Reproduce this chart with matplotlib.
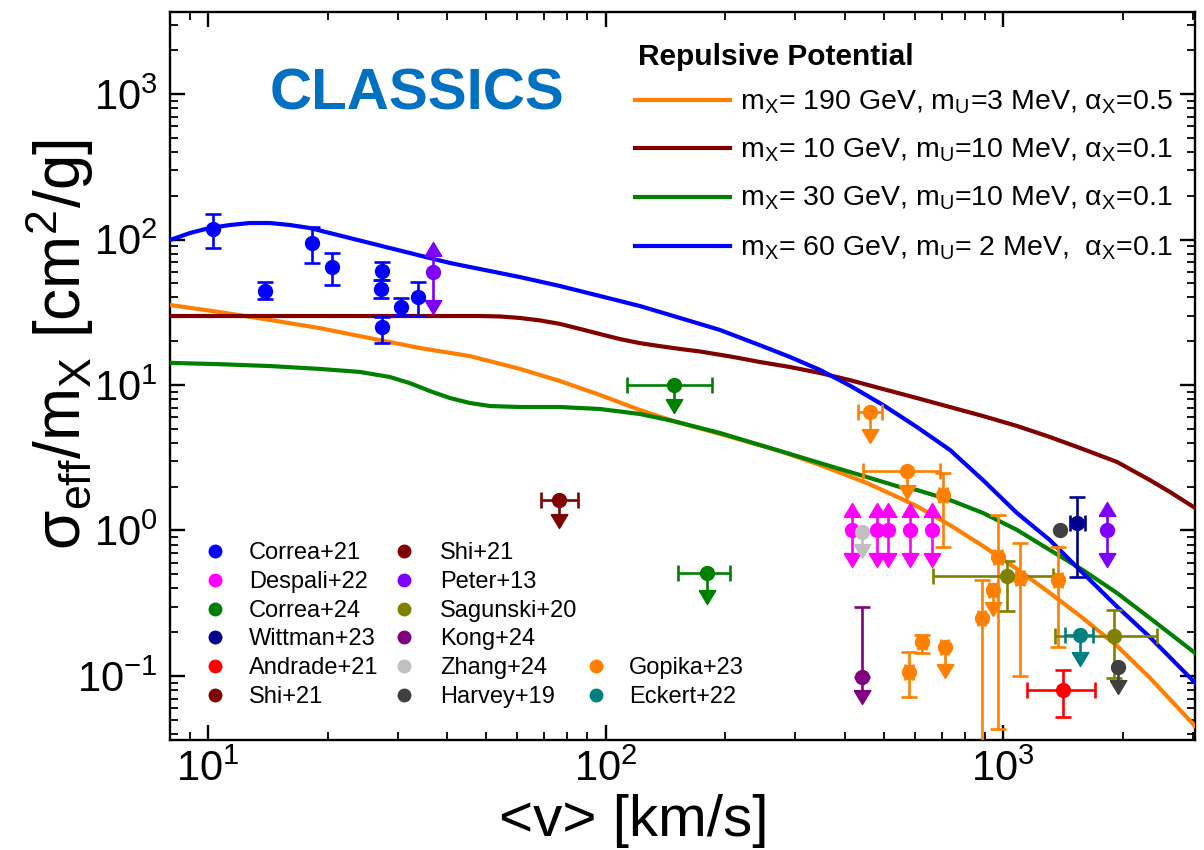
import numpy as np
import matplotlib
matplotlib.use("Agg")
import matplotlib.pyplot as plt
from matplotlib.ticker import LogLocator, FuncFormatter, NullFormatter

plt.rcParams['font.family'] = ['Liberation Sans', 'DejaVu Sans']
plt.rcParams['mathtext.fontset'] = 'custom'
plt.rcParams['mathtext.rm'] = 'Liberation Sans'
plt.rcParams['mathtext.it'] = 'Liberation Sans:italic'
plt.rcParams['mathtext.bf'] = 'Liberation Sans:bold'

# ---------------- model curves: <v> [km/s] vs sigma_eff/m_X [cm^2/g] ----------------
orange_v = [8.03, 10.72, 14.32, 19.12, 25.55, 34.12, 45.6, 60.9, 76.8, 96.8, 122, 147.7, 193.9,
            274.4, 345.8, 454, 549.6, 606, 734, 889, 1082, 1310, 1585, 1931, 2337, 3034]
orange_s = [35.5, 31.7, 28.0, 24.6, 21.0, 17.96, 15.8, 12.9, 10.65, 8.54, 6.73, 5.66, 4.61,
            3.52, 2.82, 2.12, 1.67, 1.47, 1.09, 0.782, 0.544, 0.372, 0.25, 0.161, 0.097, 0.0453]

brown_v = [8.03, 20, 40, 48.3, 54.2, 60.9, 68.4, 76.8, 86.2, 96.8, 108.6, 122, 136.9, 153.8, 172.7,
           209, 244, 290.6, 345.8, 411.6, 498, 606, 734, 889, 1082, 1310, 1585, 1931, 2337, 2624, 3034]
brown_s = [29.8, 29.8, 29.8, 29.8, 29.6, 28.9, 27.8, 26.3, 24.3, 22.4, 20.7, 19.4, 18.5, 17.7, 17.0,
           15.6, 14.4, 13.3, 12.1, 10.8, 9.39, 8.14, 7.06, 6.12, 5.23, 4.39, 3.63, 2.96, 2.22, 1.84, 1.43]

green_v = [8.03, 10.72, 14.32, 19.12, 24.1, 28.68, 32.2, 36.15, 40.6, 45.6, 51.2, 60.9, 76.8, 96.8,
           122, 147.7, 193.9, 274.4, 345.8, 454, 549.6, 606, 734, 889, 1082, 1310, 1585, 1931, 2337, 3034]
green_s = [14.2, 13.9, 13.5, 12.9, 12.3, 11.35, 10.3, 9.09, 8.14, 7.52, 7.17, 7.06, 7.06, 6.84,
           6.32, 5.66, 4.68, 3.52, 2.91, 2.33, 1.99, 1.90, 1.62, 1.32, 1.01, 0.734, 0.535, 0.372, 0.25, 0.144]

blue_v = [8.03, 9.01, 10.1, 11.36, 12.75, 14.32, 16.08, 18.05, 20.27, 22.75, 25.55, 28.68, 32.2,
          36.15, 40.6, 48.3, 60.9, 76.8, 96.8, 122, 153.8, 193.9, 244, 290.6, 345.8, 411.6, 498,
          606, 735, 889, 1082, 1309, 1585, 1931, 2337, 3034]
blue_s = [99.2, 110.8, 120, 125.8, 129.9, 129.9, 125.8, 120, 110.8, 102.4, 94.6, 87.4, 80.8,
          74.6, 69, 62.7, 55.2, 47.9, 40.9, 34.9, 28.9, 23.9, 18.8, 15.6, 12.7, 9.9, 7.3,
          5.15, 3.57, 2.22, 1.32, 0.86, 0.51, 0.30, 0.185, 0.09]

curve_labels = [
    'm$_{\\mathrm{X}}$= 190 GeV, m$_{\\mathrm{U}}$=3 MeV, \u03b1$_{\\mathrm{X}}$=0.5',
    'm$_{\\mathrm{X}}$= 10 GeV, m$_{\\mathrm{U}}$=10 MeV, \u03b1$_{\\mathrm{X}}$=0.1',
    'm$_{\\mathrm{X}}$= 30 GeV, m$_{\\mathrm{U}}$=10 MeV, \u03b1$_{\\mathrm{X}}$=0.1',
    'm$_{\\mathrm{X}}$= 60 GeV, m$_{\\mathrm{U}}$= 2 MeV,  \u03b1$_{\\mathrm{X}}$=0.1',
]

# ---------------- observational constraints ----------------
# Correa+21
correa21_v = [10.3, 13.9, 18.3, 20.5, 27.4, 27.2, 30.5, 33.7, 27.4]
correa21_s = [118, 44, 94.6, 64.7, 60.8, 45.7, 34.4, 40.3, 25]
correa21_lo = [87.5, 39, 69, 48.6, 52.7, 39.6, 30.3, 30, 19.5]
correa21_hi = [150, 51, 122, 80.7, 70, 52.7, 39.6, 51, 29.4]

# Peter+13 (ranges)
peter13_v = [36.8, 1820]
peter13_s = [59.9, 1.0]
peter13_up = [96.6, 1.58]
peter13_down = [31, 0.56]

# Correa+24 (upper limits)
correa24_v = [149, 180]
correa24_s = [10, 0.51]
correa24_vlo = [113, 152]
correa24_vhi = [185, 206]
correa24_down = [6.4, 0.31]

# Shi+21 (upper limit)
shi21_v = [76.4]
shi21_s = [1.62]
shi21_vlo = [68.7]
shi21_vhi = [85]
shi21_down = [1.04]

# Despali+22 (ranges)
despali22_v = [416, 481, 513, 582, 662]
despali22_s = [1.0, 1.0, 1.0, 1.0, 1.0]
despali22_up = [1.55, 1.55, 1.55, 1.55, 1.55]
despali22_down = [0.56, 0.56, 0.56, 0.56, 0.56]

# Zhang+24
zhang24_v = [441]
zhang24_s = [0.97]
zhang24_down = [0.65]

# Kong+24
kong24_v = [441]
kong24_s = [0.098]
kong24_hi = [0.30]
kong24_down = [0.064]

# Harvey+19
harvey19_v = [1387, 1941]
harvey19_s = [1.0, 0.115]
harvey19_down = [np.nan, 0.075]

# Wittman+23
wittman23_v = [1531]
wittman23_s = [1.13]
wittman23_lo = [0.48]
wittman23_hi = [1.70]
wittman23_vlo = [1469]
wittman23_vhi = [1603]

# Andrade+21
andrade21_v = [1413]
andrade21_s = [0.080]
andrade21_lo = [0.052]
andrade21_hi = [0.11]
andrade21_vlo = [1146]
andrade21_vhi = [1698]

# Eckert+22
eckert22_v = [1560]
eckert22_s = [0.19]
eckert22_vlo = [1430]
eckert22_vhi = [1680]
eckert22_down = [0.118]

# Sagunski+20
sagunski20_v = [1020, 1897]
sagunski20_s = [0.49, 0.188]
sagunski20_lo = [0.28, 0.097]
sagunski20_hi = [0.62, 0.285]
sagunski20_vlo = [665, 1349]
sagunski20_vhi = [1333, 2432]

# Gopika+23
gopika23_v = [463, 573, 705, 968, 941, 883, 1101, 1371, 579, 624, 713]
gopika23_s = [6.5, 2.56, 1.75, 0.66, 0.39, 0.25, 0.47, 0.457, 0.106, 0.17, 0.158]
gopika23_lo = [np.nan, np.nan, 0.77, 0.043, np.nan, 0.01, 0.10, 0.158, 0.072, 0.144, np.nan]
gopika23_hi = [np.nan, np.nan, 2.48, 1.28, np.nan, 0.457, 0.82, 0.77, 0.146, 0.19, np.nan]
gopika23_vlo = [431, 444, 690, 945, 920, 865, 1075, 1340, 566, 610, 698]
gopika23_vhi = [495, 693, 720, 990, 962, 900, 1127, 1402, 592, 638, 728]
gopika23_down = [3.97, 1.64, np.nan, np.nan, 0.26, np.nan, np.nan, np.nan, np.nan, np.nan, 0.097]

C_CORREA21 = '#0000FF'
C_DESPALI = '#FF00FF'
C_CORREA24 = '#008000'
C_WITTMAN = '#000090'
C_ANDRADE = '#FF0000'
C_SHI = '#800000'
C_PETER = '#8000FF'
C_SAGUNSKI = '#808000'
C_KONG = '#800080'
C_ZHANG = '#C0C0C0'
C_HARVEY = '#404040'
C_GOPIKA = '#FF8000'
C_ECKERT = '#008080'

# ---------------- figure ----------------
W, H = 1204, 850
fig = plt.figure(figsize=(W / 100, H / 100), dpi=100)
AX_L, AX_R, AX_T, AX_B = 170, 1195, 12, 740
ax = fig.add_axes([AX_L / W, 1 - AX_B / H, (AX_R - AX_L) / W, (AX_B - AX_T) / H])
ax.set_xscale('log')
ax.set_yscale('log')
ax.set_xlim(8.03, 3034)
ax.set_ylim(0.0363, 3664)

LW = 3.0
ax.plot(orange_v, orange_s, color='#FF8000', lw=LW, zorder=3, solid_joinstyle='round')
ax.plot(brown_v, brown_s, color='#800000', lw=LW, zorder=3, solid_joinstyle='round')
ax.plot(green_v, green_s, color='#008000', lw=LW, zorder=3, solid_joinstyle='round')
ax.plot(blue_v, blue_s, color='#0000FF', lw=LW, zorder=3, solid_joinstyle='round')

# triangle markers whose tip sits on the data point
TRI_DOWN = [(-0.6, 1.0), (0.6, 1.0), (0.0, 0.0), (-0.6, 1.0)]
TRI_UP = [(-0.6, -1.0), (0.6, -1.0), (0.0, 0.0), (-0.6, -1.0)]
MS = 10
ELW = 1.9
CAP = 5.5


def arr(a, n):
    if a is None:
        return np.full(n, np.nan)
    return np.asarray(a, dtype=float)


def draw(v, s, color, lo=None, hi=None, vlo=None, vhi=None, down=None, up=None, z=5):
    v = np.asarray(v, float)
    s = np.asarray(s, float)
    n = len(v)
    lo, hi, vlo, vhi = arr(lo, n), arr(hi, n), arr(vlo, n), arr(vhi, n)
    down, up = arr(down, n), arr(up, n)
    for i in range(n):
        if np.isfinite(lo[i]) or np.isfinite(hi[i]):
            l = lo[i] if np.isfinite(lo[i]) else s[i]
            h = hi[i] if np.isfinite(hi[i]) else s[i]
            ax.errorbar([v[i]], [s[i]], yerr=[[s[i] - l], [h - s[i]]], fmt='none',
                        ecolor=color, elinewidth=ELW, capsize=CAP, capthick=ELW, zorder=z)
        if np.isfinite(vlo[i]):
            ax.errorbar([v[i]], [s[i]], xerr=[[v[i] - vlo[i]], [vhi[i] - v[i]]], fmt='none',
                        ecolor=color, elinewidth=ELW, capsize=CAP, capthick=ELW, zorder=z)
        if np.isfinite(down[i]):
            ax.plot([v[i], v[i]], [s[i], down[i] * 1.05], color=color, lw=ELW, zorder=z)
            ax.plot([v[i]], [down[i]], marker=TRI_DOWN, ms=20, color=color, mec=color, zorder=z)
        if np.isfinite(up[i]):
            ax.plot([v[i], v[i]], [s[i], up[i] / 1.05], color=color, lw=ELW, zorder=z)
            ax.plot([v[i]], [up[i]], marker=TRI_UP, ms=20, color=color, mec=color, zorder=z)
    ax.plot(v, s, 'o', ms=MS, color=color, mec=color, zorder=z + 0.5)


draw(correa21_v, correa21_s, C_CORREA21, lo=correa21_lo, hi=correa21_hi)
draw(peter13_v, peter13_s, C_PETER, up=peter13_up, down=peter13_down)
draw(correa24_v, correa24_s, C_CORREA24, vlo=correa24_vlo, vhi=correa24_vhi, down=correa24_down)
draw(shi21_v, shi21_s, C_SHI, vlo=shi21_vlo, vhi=shi21_vhi, down=shi21_down)
draw(despali22_v, despali22_s, C_DESPALI, up=despali22_up, down=despali22_down)
draw(zhang24_v, zhang24_s, C_ZHANG, down=zhang24_down, z=6)
draw(kong24_v, kong24_s, C_KONG, hi=kong24_hi, down=kong24_down)
draw(gopika23_v, gopika23_s, C_GOPIKA, lo=gopika23_lo, hi=gopika23_hi,
     vlo=gopika23_vlo, vhi=gopika23_vhi, down=gopika23_down)
draw(sagunski20_v, sagunski20_s, C_SAGUNSKI, lo=sagunski20_lo, hi=sagunski20_hi,
     vlo=sagunski20_vlo, vhi=sagunski20_vhi)
draw(harvey19_v, harvey19_s, C_HARVEY, down=harvey19_down)
draw(wittman23_v, wittman23_s, C_WITTMAN, lo=wittman23_lo, hi=wittman23_hi,
     vlo=wittman23_vlo, vhi=wittman23_vhi)
draw(andrade21_v, andrade21_s, C_ANDRADE, lo=andrade21_lo, hi=andrade21_hi,
     vlo=andrade21_vlo, vhi=andrade21_vhi)
draw(eckert22_v, eckert22_s, C_ECKERT, vlo=eckert22_vlo, vhi=eckert22_vhi, down=eckert22_down)

# ---------------- axes styling ----------------
for sp in ax.spines.values():
    sp.set_linewidth(1.7)
ax.xaxis.set_major_locator(LogLocator(base=10, numticks=20))
ax.yaxis.set_major_locator(LogLocator(base=10, numticks=20))
ax.xaxis.set_minor_locator(LogLocator(base=10, subs=np.arange(2, 10), numticks=50))
ax.yaxis.set_minor_locator(LogLocator(base=10, subs=np.arange(2, 10), numticks=50))
fmt = FuncFormatter(lambda val, pos: '$10^{%d}$' % int(round(np.log10(val))))
ax.xaxis.set_major_formatter(fmt)
ax.yaxis.set_major_formatter(fmt)
ax.xaxis.set_minor_formatter(NullFormatter())
ax.yaxis.set_minor_formatter(NullFormatter())
ax.tick_params(which='both', direction='in', top=True, right=True, labelsize=30)
ax.tick_params(which='major', length=11, width=1.7, pad=9)
ax.tick_params(axis='x', which='major', pad=7)
ax.tick_params(which='minor', length=6, width=1.3)

fig.text(60 / W, 1 - 345 / H, '\u03c3$_{\\mathrm{eff}}$/m$_{\\mathrm{X}}$ [cm$^{2}$/g]',
         rotation=90, ha='center', va='center', fontsize=46)
fig.text(634 / W, 1 - 821 / H, '<v> [km/s]', ha='center', va='center', fontsize=42)


def fx(px):
    return (px - AX_L) / (AX_R - AX_L)


def fy(py):
    return (AX_B - py) / (AX_B - AX_T)


# title block
ax.text(fx(417), fy(95), 'CLASSICS', transform=ax.transAxes, ha='center', va='center',
        fontsize=42, fontweight='bold', color='#0070C0')

# model legend
ax.text(fx(638), fy(57), 'Repulsive Potential', transform=ax.transAxes, ha='left',
        va='center', fontsize=21.5, fontweight='bold')
leg_rows = [100, 148, 197, 246]
for row, col, lab in zip(leg_rows, ['#FF8000', '#800000', '#008000', '#0000FF'], curve_labels):
    ax.plot([fx(635), fx(730)], [fy(row), fy(row)], transform=ax.transAxes, color=col,
            lw=LW, clip_on=False)
    ax.text(fx(740), fy(row + 9), lab, transform=ax.transAxes, ha='left', va='baseline',
            fontsize=20.5)

# data legend
names = [
    ('Correa+21', C_CORREA21, 0, 0), ('Despali+22', C_DESPALI, 0, 1),
    ('Correa+24', C_CORREA24, 0, 2), ('Wittman+23', C_WITTMAN, 0, 3),
    ('Andrade+21', C_ANDRADE, 0, 4), ('Shi+21', C_SHI, 0, 5),
    ('Shi+21', C_SHI, 1, 0), ('Peter+13', C_PETER, 1, 1),
    ('Sagunski+20', C_SAGUNSKI, 1, 2), ('Kong+24', C_KONG, 1, 3),
    ('Zhang+24', C_ZHANG, 1, 4), ('Harvey+19', C_HARVEY, 1, 5),
    ('Gopika+23', C_GOPIKA, 2, 4), ('Eckert+22', C_ECKERT, 2, 5),
]
col_marker = [215, 404, 596]
col_text = [249, 440, 629]
for lab, col, c, r in names:
    py = 551 + 28.8 * r
    ax.plot([fx(col_marker[c])], [fy(py)], 'o', ms=9, color=col, transform=ax.transAxes,
            clip_on=False)
    ax.text(fx(col_text[c]), fy(py + 8), lab, transform=ax.transAxes, ha='left',
            va='baseline', fontsize=17)

fig.savefig('out.png', dpi=100)
